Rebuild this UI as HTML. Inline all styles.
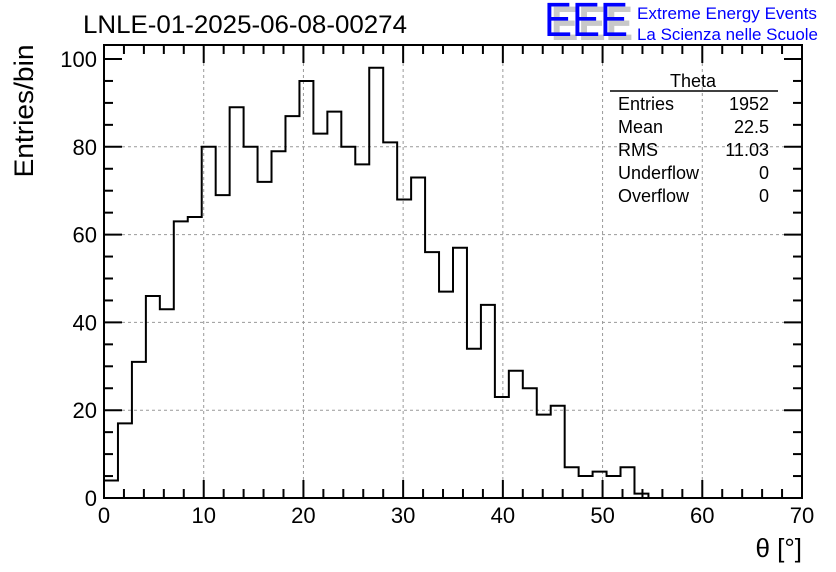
<!DOCTYPE html>
<html><head><meta charset="utf-8"><style>
body{margin:0;background:#fff;}
svg{display:block;font-family:"Liberation Sans",sans-serif;}
</style></head><body>
<svg id="c" width="836" height="572" viewBox="0 0 836 572">
<text x="83" y="33" font-size="25" textLength="324" lengthAdjust="spacingAndGlyphs">LNLE-01-2025-06-08-00274</text>
<g>
<text x="551" y="40" font-size="48" fill="#c8c8c8" font-weight="bold" textLength="82" lengthAdjust="spacingAndGlyphs">EEE</text>
<text x="544" y="36" font-size="48" fill="#0000ff" textLength="84" lengthAdjust="spacingAndGlyphs">EEE</text>
<text x="637" y="19" font-size="17" fill="#0000ff" textLength="180" lengthAdjust="spacingAndGlyphs">Extreme Energy Events</text>
<text x="637" y="40" font-size="17" fill="#0000ff" textLength="181" lengthAdjust="spacingAndGlyphs">La Scienza nelle Scuole</text>
</g>
<g id="grid"></g><g id="ticks"></g><path id="hist" fill="none" stroke="#000" stroke-width="2"/>
<rect x="104" y="45" width="698" height="453" fill="none" stroke="#000" stroke-width="2"/>
<g id="labels" font-size="22"></g>
<text transform="translate(33,111) rotate(-90)" text-anchor="middle" font-size="27" textLength="133" lengthAdjust="spacingAndGlyphs">Entries/bin</text>
<text x="802" y="557" text-anchor="end" font-size="26">θ [°]</text>
<g font-size="18">
<text x="693" y="87" text-anchor="middle">Theta</text>
<line x1="610" y1="91" x2="778" y2="91" stroke="#000" stroke-width="1.5"/>
<text x="618" y="110">Entries</text><text x="769" y="110" text-anchor="end">1952</text>
<text x="618" y="133">Mean</text><text x="769" y="133" text-anchor="end">22.5</text>
<text x="618" y="156">RMS</text><text x="769" y="156" text-anchor="end">11.03</text>
<text x="618" y="179">Underflow</text><text x="769" y="179" text-anchor="end">0</text>
<text x="618" y="202">Overflow</text><text x="769" y="202" text-anchor="end">0</text>
</g>
</svg>
<script>
const counts=[4,17,31,46,43,63,64,80,69,89,80,72,79,87,95,83,88,80,76,98,81,68,73,56,47,57,34,44,23,29,25,19,21,7,5,6,5,7,1,0,0,0,0,0,0,0,0,0,0,0];
const xTicks=[0,10,20,30,40,50,60,70];
const yTicks=[0,20,40,60,80,100];
const binWidth=1.4;
const X=v=>104+v*(698/70);
const Y=v=>498-v*(439/100);
const NS="http://www.w3.org/2000/svg";
function mk(tag,attrs,parent){const e=document.createElementNS(NS,tag);for(const k in attrs)e.setAttribute(k,attrs[k]);document.getElementById(parent).appendChild(e);return e;}
let d="M"+X(0)+","+Y(0);
counts.forEach((c,i)=>{d+=" L"+X(i*binWidth)+","+Y(c)+" L"+X((i+1)*binWidth)+","+Y(c);});
d+=" L"+X(counts.length*binWidth)+","+Y(0);
document.getElementById('hist').setAttribute('d',d);
xTicks.forEach(v=>{
 if(v>0&&v<70){const g=mk('line',{x1:X(v),x2:X(v),y1:45,y2:498,stroke:'#999','stroke-dasharray':'3,3','stroke-width':1},'grid');
 }
 const t=mk('text',{x:X(v),y:523,'text-anchor':'middle'},'labels');t.textContent=v;
 
});
yTicks.forEach(v=>{
 if(v>0&&v<100){const g=mk('line',{x1:104,x2:802,y1:Y(v),y2:Y(v),stroke:'#999','stroke-dasharray':'3,3','stroke-width':1},'grid');
 }
 const t=mk('text',{x:97,y:Y(v)+8,'text-anchor':'end'},'labels');t.textContent=v;
 
});
for(let v=0;v<=70;v+=2){const L=v%10==0?18:9;
 mk('line',{x1:X(v),x2:X(v),y1:498,y2:498-L,stroke:'#000','stroke-width':2},'ticks');
 mk('line',{x1:X(v),x2:X(v),y1:45,y2:45+L,stroke:'#000','stroke-width':2},'ticks');}
for(let v=0;v<=100;v+=5){const L=v%20==0?18:9;
 mk('line',{x1:104,x2:104+L,y1:Y(v),y2:Y(v),stroke:'#000','stroke-width':2},'ticks');
 mk('line',{x1:802,x2:802-L,y1:Y(v),y2:Y(v),stroke:'#000','stroke-width':2},'ticks');}
</script>
</body></html>
